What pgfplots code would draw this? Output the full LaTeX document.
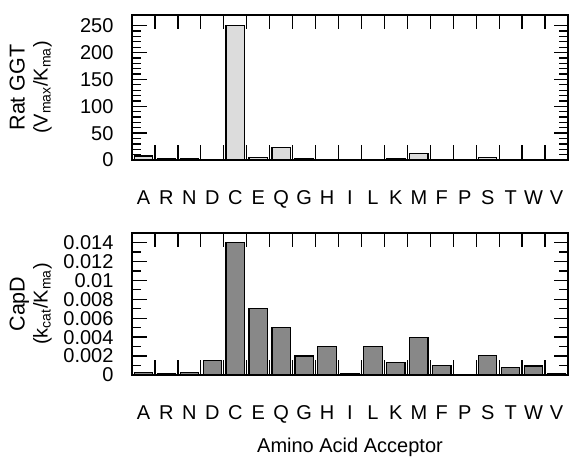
\documentclass[border=0pt]{standalone}
\usepackage{pgfplots}
\pgfplotsset{compat=1.18}
\usepackage{fontspec}
\setmainfont{Liberation Sans}

\definecolor{ratfill}{HTML}{DCDCDC}
\definecolor{capfill}{HTML}{888888}

\pgfplotsset{
  panel/.style={
    scale only axis,
    width=436pt,
    xmin=-0.5, xmax=18.5,
    ymin=0,
    ybar, bar width=0.8,
    tick align=inside,
    scaled y ticks=false,
    axis line style={line width=1.4pt},
    every tick/.style={line width=1.3pt, black},
    major tick length=14.5pt,
    minor tick length=9pt,
    xtick={0.5,1.5,...,17.5},
    xticklabels={},
    extra x ticks={0,1,...,18},
    extra x tick labels={A,R,N,D,C,E,Q,G,H,I,L,K,M,F,P,S,T,W,V},
    extra x tick style={major tick length=0pt,
      xticklabel style={yshift=-27pt}},
    tick label style={font=\fontsize{20}{24}\selectfont},
    yticklabel style={xshift=-15pt},
    /pgf/number format/assume math mode=true,
    ylabel style={at={(axis description cs:-0.176,0.5)}, anchor=south,
      rotate=0, align=center, font=\fontsize{21.5}{23}\selectfont},
  },
}

\begin{document}
\begin{tikzpicture}
\useasboundingbox (0,0) rectangle (570pt,457pt);

% Rat GGT
\begin{axis}[panel,
  at={(132pt,297pt)}, anchor=south west,
  height=145pt,
  ymax=270,
  ytick={0,50,...,250},
  minor y tick num=4,
  ylabel={Rat GGT\\\fontsize{20}{23}\selectfont (V\textsubscript{max}/K\textsubscript{ma})},
]
\addplot[draw=black, line width=1.2pt, fill=ratfill] coordinates {
  (0,7.5) (1,3) (2,3) (3,0) (4,250) (5,5) (6,23) (7,3) (8,1.5) (9,0)
  (10,0) (11,3) (12,12.5) (13,1.5) (14,0) (15,4) (16,0) (17,1) (18,0)
};
\end{axis}

% CapD
\begin{axis}[panel,
  at={(132pt,82pt)}, anchor=south west,
  height=142pt,
  ymax=0.015,
  ytick={0,0.002,0.004,0.006,0.008,0.01,0.012,0.014},
  yticklabels={0,0.002,0.004,0.006,0.008,0.01,0.012,0.014},
  minor y tick num=1,
  ylabel={CapD\\\fontsize{20}{23}\selectfont (k\textsubscript{cat}/K\textsubscript{ma})},
  xlabel={Amino Acid Acceptor},
  xlabel style={at={(axis description cs:0.5,0)}, anchor=base,
    yshift=-78pt, font=\fontsize{20}{24}\selectfont},
]
\addplot[draw=black, line width=1.2pt, fill=capfill] coordinates {
  (0,0.0003) (1,0.0002) (2,0.0003) (3,0.0015) (4,0.014) (5,0.007)
  (6,0.005) (7,0.002) (8,0.003) (9,0.0001) (10,0.003) (11,0.0013)
  (12,0.004) (13,0.001) (14,0) (15,0.0021) (16,0.0008) (17,0.00095)
  (18,0.0001)
};
\end{axis}
\end{tikzpicture}
\end{document}
